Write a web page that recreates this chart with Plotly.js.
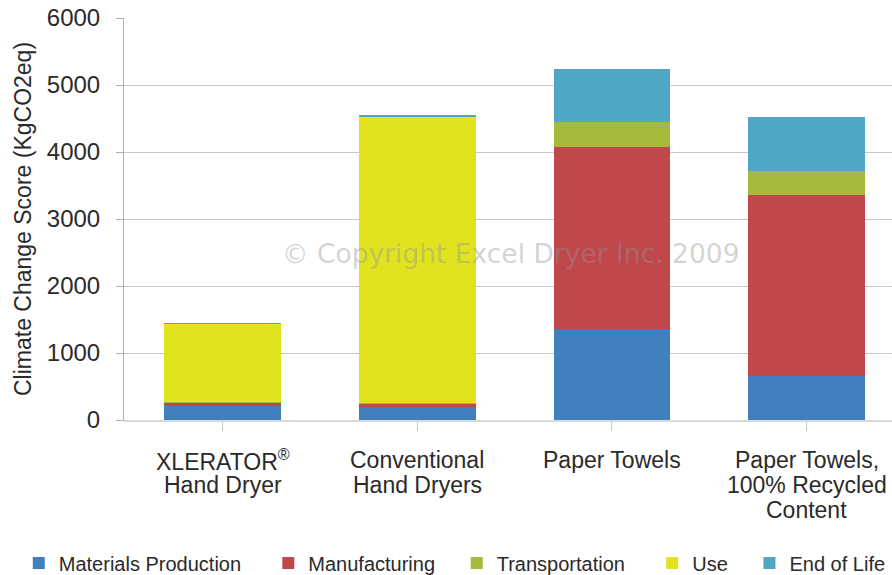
<!DOCTYPE html>
<html>
<head>
<meta charset="utf-8">
<script src="https://cdn.plot.ly/plotly-3.0.1.min.js"></script>
<style>html,body{margin:0;padding:0;background:#fff;}#chart{width:892px;height:575px;}</style>
</head>
<body>
<div id="chart"></div>
<script>
// ---- data ----
var categories = ["XLERATOR<sup>®</sup><br>Hand Dryer", "Conventional<br>Hand Dryers", "Paper Towels", "Paper Towels,<br>100% Recycled<br>Content"];
var seriesNames = ["Materials Production", "Manufacturing", "Transportation", "Use", "End of Life"];
var materialsProduction = [210, 195, 1357, 654];
var manufacturing = [45, 45, 2725, 2707];
var transportation = [15, 15, 359, 359];
var use = [1167, 4273, 0, 0];
var endOfLife = [3, 15, 805, 808];
var yTickValues = [0, 1000, 2000, 3000, 4000, 5000, 6000];
var watermark = "© Copyright Excel Dryer Inc. 2009";

var colors = ["#4180BF", "#C0474A", "#A3BA3A", "#E2E31F", "#4FA6C5"];
var legendPad = [4, 3, 4, 3, 0]; // trailing no-break spaces to widen legend spacing
var seriesValues = [materialsProduction, manufacturing, transportation, use, endOfLife];
var xIdx = categories.map(function (c, i) { return i; });

var traces = seriesValues.map(function (vals, k) {
  return {
    type: "bar",
    name: seriesNames[k] + new Array(legendPad[k] + 1).join("\u00a0"),
    x: xIdx,
    y: vals,
    marker: { color: colors[k], line: { width: 0 } },
    hovertemplate: seriesNames[k] + ": %{y}<extra></extra>"
  };
});

var FONT = "Liberation Sans, Arial, sans-serif";
var annotations = [];
categories.forEach(function (c, i) {
  c.split("<br>").forEach(function (line, k) {
    annotations.push({
      x: i, y: 0, xref: "x", yref: "y",
      text: line, showarrow: false,
      xanchor: "center", yanchor: "middle",
      yshift: -40 - k * 25,
      font: { family: FONT, size: 23, color: "#2a2a2a" }
    });
  });
});
annotations.push({
  x: 0.5, y: 0.415, xref: "paper", yref: "paper",
  text: watermark, showarrow: false,
  xanchor: "center", yanchor: "middle", xshift: 3,
  font: { family: "DejaVu Sans, sans-serif", size: 26.5, color: "rgba(150,150,150,0.42)" }
});

var layout = {
  width: 892, height: 575,
  margin: { l: 124, r: 0, t: 18, b: 155, pad: 0, autoexpand: false },
  paper_bgcolor: "#ffffff", plot_bgcolor: "#ffffff",
  barmode: "stack",
  bargap: 0.4,
  showlegend: true,
  font: { family: FONT, color: "#2a2a2a" },
  xaxis: {
    range: [-0.506, 3.438],
    tickmode: "array", tickvals: xIdx, ticktext: categories,
    tickson: "boundaries",
    ticks: "outside", ticklen: 9, tickcolor: "#c8c8c8", tickwidth: 1,
    showticklabels: false,
    showgrid: false, zeroline: false,
    showline: true, linecolor: "#d9d9d9", linewidth: 2,
    fixedrange: true
  },
  yaxis: {
    range: [0, 6000],
    tickmode: "array", tickvals: yTickValues,
    ticks: "outside", ticklen: 7, tickcolor: "#b0b0b0", tickwidth: 1,
    ticklabelstandoff: 11,
    tickfont: { family: FONT, size: 24, color: "#2a2a2a" },
    showgrid: true, gridcolor: "#c8c8c8", gridwidth: 1,
    zeroline: false,
    showline: true, linecolor: "#b0b0b0", linewidth: 1,
    title: { text: "Climate Change Score (KgCO2eq)", font: { family: FONT, size: 23, color: "#2a2a2a" }, standoff: 8 },
    fixedrange: true
  },
  legend: {
    orientation: "h",
    x: -0.137, xanchor: "left",
    y: -0.3557, yanchor: "middle",
    traceorder: "normal",
    font: { family: FONT, size: 20, color: "#2a2a2a" },
    itemwidth: 30,
    bgcolor: "rgba(0,0,0,0)"
  },
  annotations: annotations
};

Plotly.newPlot("chart", traces, layout, { displayModeBar: false });
</script>
</body>
</html>
